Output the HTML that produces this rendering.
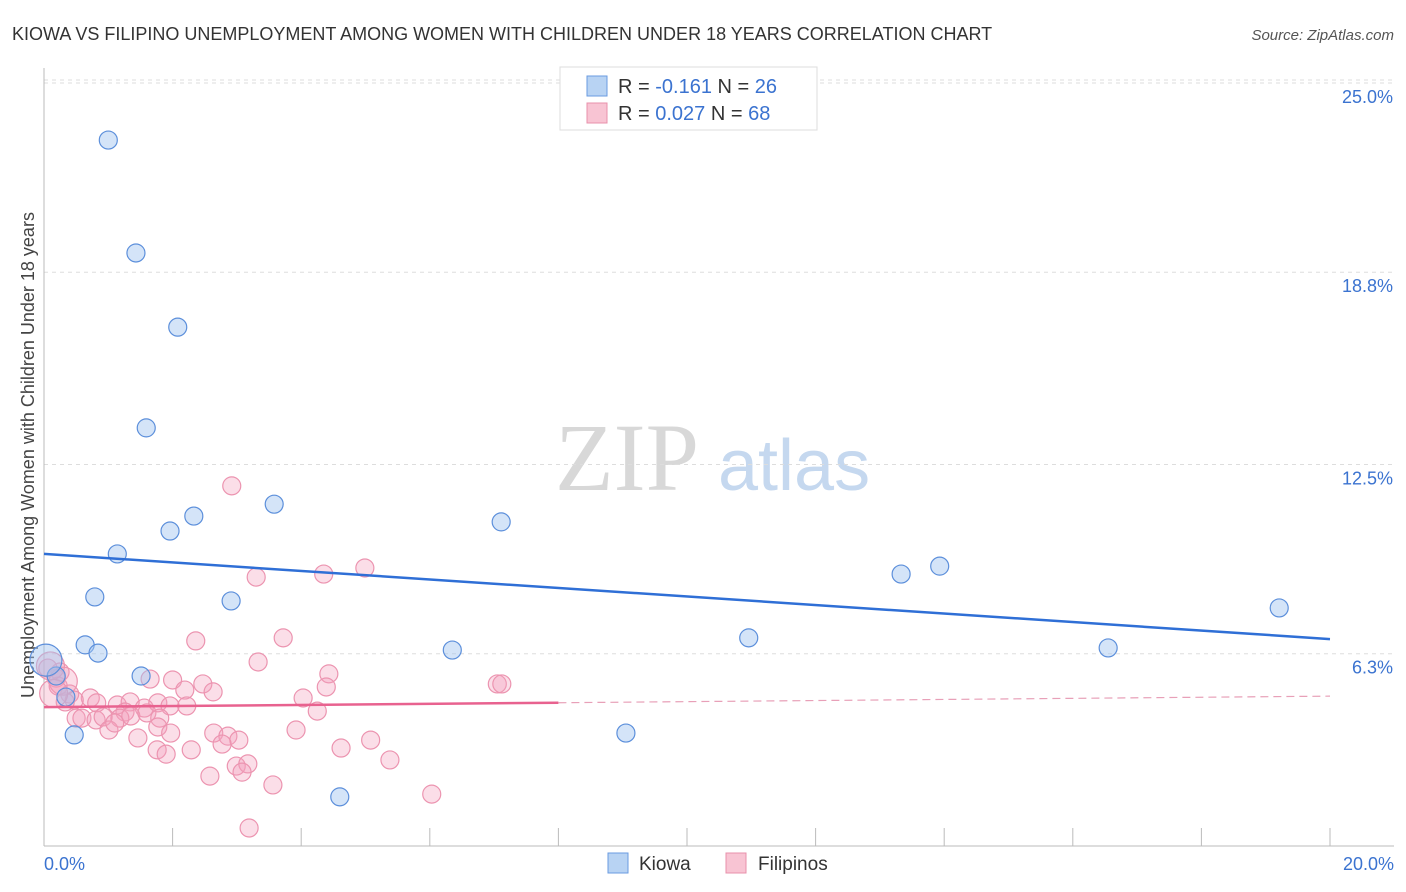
<!DOCTYPE html>
<html><head><meta charset="utf-8"><style>
body{margin:0;background:#fff;font-family:"Liberation Sans",sans-serif;}
svg{display:block}
</style></head><body>
<svg id="chart" width="1406" height="892">
<text x="12" y="40" font-size="18" fill="#333">KIOWA VS FILIPINO UNEMPLOYMENT AMONG WOMEN WITH CHILDREN UNDER 18 YEARS CORRELATION CHART</text>
<text x="1394" y="40" font-size="15" fill="#555" font-style="italic" text-anchor="end">Source: ZipAtlas.com</text>
<g>
<text x="555" y="490" font-family="Liberation Serif,serif" font-size="96" fill="#d8d8d8">ZIP</text>
<text x="718" y="490" font-size="72" fill="#c5d8ef">atlas</text>
</g>
<text transform="translate(34,455) rotate(-90)" font-size="18" fill="#444" text-anchor="middle">Unemployment Among Women with Children Under 18 years</text>
<g id="grid"></g><g id="marks"></g>
<g>
<rect x="560" y="67" width="257" height="63" fill="#fff" stroke="#ddd"/>
<rect x="587" y="76" width="20" height="20" fill="#b8d3f3" stroke="#6a9be0"/>
<text x="618" y="93" font-size="20" fill="#333">R = <tspan fill="#3b73d0">-0.161</tspan>   N = <tspan fill="#3b73d0">26</tspan></text>
<rect x="587" y="103" width="20" height="20" fill="#f8c4d3" stroke="#e890ab"/>
<text x="618" y="120" font-size="20" fill="#333">R = <tspan fill="#3b73d0">0.027</tspan>   N = <tspan fill="#3b73d0">68</tspan></text>
</g>
<g>
<rect x="608" y="853" width="20" height="20" fill="#b8d3f3" stroke="#6a9be0"/>
<text x="639" y="870" font-size="19" fill="#333">Kiowa</text>
<rect x="726" y="853" width="20" height="20" fill="#f8c4d3" stroke="#e890ab"/>
<text x="758" y="870" font-size="19" fill="#333">Filipinos</text>
</g>
</svg>
<script>
const yTicks=[25.0,18.8,12.5,6.3];
const yTickLabels=["25.0%","18.8%","12.5%","6.3%"];
const xTickLabels=["0.0%","20.0%"];
const kiowaX=[1.0,1.43,2.08,1.59,2.33,1.96,3.58,1.14,0.79,2.91,0.64,0.84,1.51,0.19,0.34,0.47,7.11,6.35,4.6,9.05,10.96,13.33,13.93,16.55,19.21,0.03];
const kiowaY=[23.13,19.43,17.0,13.7,10.81,10.32,11.2,9.57,8.16,8.03,6.59,6.32,5.57,5.57,4.88,3.64,10.62,6.42,1.61,3.7,6.82,8.91,9.17,6.49,7.8,6.09];
const filX=[2.92,3.3,4.35,4.99,2.36,3.72,3.33,4.43,4.39,7.05,7.12,1.65,2.0,2.47,2.19,2.63,4.03,4.25,0.25,0.19,0.06,0.22,0.4,0.72,0.47,0.82,0.33,1.14,1.34,1.26,1.56,1.77,1.96,2.22,0.5,0.59,0.81,0.92,1.18,1.35,1.6,1.8,1.01,1.1,1.46,1.77,1.97,2.64,2.86,3.03,2.77,3.92,5.08,1.76,1.9,2.29,4.62,2.99,3.17,3.08,5.38,2.58,3.56,6.03,3.19,0.1,0.3,0.15];
const filY=[11.8,8.81,8.91,9.11,6.72,6.82,6.03,5.64,5.21,5.31,5.31,5.47,5.44,5.31,5.11,5.05,4.85,4.42,5.7,5.5,5.83,5.24,4.98,4.85,4.78,4.69,4.72,4.62,4.72,4.39,4.52,4.69,4.59,4.59,4.19,4.19,4.13,4.23,4.19,4.26,4.36,4.19,3.8,4.03,3.54,3.9,3.7,3.7,3.6,3.47,3.34,3.8,3.47,3.15,3.01,3.15,3.21,2.62,2.69,2.42,2.82,2.29,2.0,1.7,0.59,5.9,5.4,5.0];
const kiowaTrend=[9.57,6.78];
const filTrend=[4.55,4.91];
const sx=v=>44+v*64.3, sy=v=>846-v*30.52;
const NS="http://www.w3.org/2000/svg";
function mk(t,a,p){const e=document.createElementNS(NS,t);for(const k in a)e.setAttribute(k,a[k]);p.appendChild(e);return e;}
const g=document.getElementById('grid'), m=document.getElementById('marks');
yTicks.forEach((t,i)=>{
 const l=mk('line',{x1:44,x2:1394,y1:sy(t),y2:sy(t),stroke:'#ddd','stroke-dasharray':'4,4'},g);
 
 
 const tx=mk('text',{x:1393,y:sy(t)+20,'font-size':18,fill:'#3b73d0','text-anchor':'end'},g);
 tx.textContent=yTickLabels[i];
 
 
});
const gl=mk('line',{x1:44,x2:1394,y1:80,y2:80,stroke:'#ddd','stroke-dasharray':'4,4'},g);


const ya=mk('line',{x1:44,x2:44,y1:68,y2:846,stroke:'#bbb'},g);


const xa=mk('line',{x1:44,x2:1394,y1:846,y2:846,stroke:'#bbb'},g);


for(let i=1;i<=10;i++){const t=mk('line',{x1:sx(i*2),x2:sx(i*2),y1:828,y2:846,stroke:'#bbb'},g);
 
 }
[[0,'start',44],[20,'end',1394]].forEach((d,i)=>{const t=mk('text',{x:d[2],y:870,'font-size':18,fill:'#3b73d0','text-anchor':d[1]},g);t.textContent=xTickLabels[i];
 
 });
filX.forEach((x,i)=>{const c=mk('circle',{cx:sx(x),cy:sy(filY[i]),r:(i>=65?14:9),fill:'rgba(244,160,188,0.35)',stroke:'#ec94b0','stroke-width':1.2},m);
 
 });
kiowaX.forEach((x,i)=>{const c=mk('circle',{cx:sx(x),cy:sy(kiowaY[i]),r:(i==25?16:9),fill:'rgba(160,196,240,0.45)',stroke:'#5c8fdb','stroke-width':1.2},m);
 
 });
const kl=mk('line',{x1:sx(0),y1:sy(kiowaTrend[0]),x2:sx(20),y2:sy(kiowaTrend[1]),stroke:'#2f6fd6','stroke-width':2.5},m);


const fm=filTrend[0]+(filTrend[1]-filTrend[0])*0.4;
const f1=mk('line',{x1:sx(0),y1:sy(filTrend[0]),x2:sx(8),y2:sy(fm),stroke:'#e8628f','stroke-width':2.5},m);


const f2=mk('line',{x1:sx(8),y1:sy(fm),x2:sx(20),y2:sy(filTrend[1]),stroke:'#e8a0b8','stroke-width':1.2,'stroke-dasharray':'8,5'},m);


</script>
</body></html>
